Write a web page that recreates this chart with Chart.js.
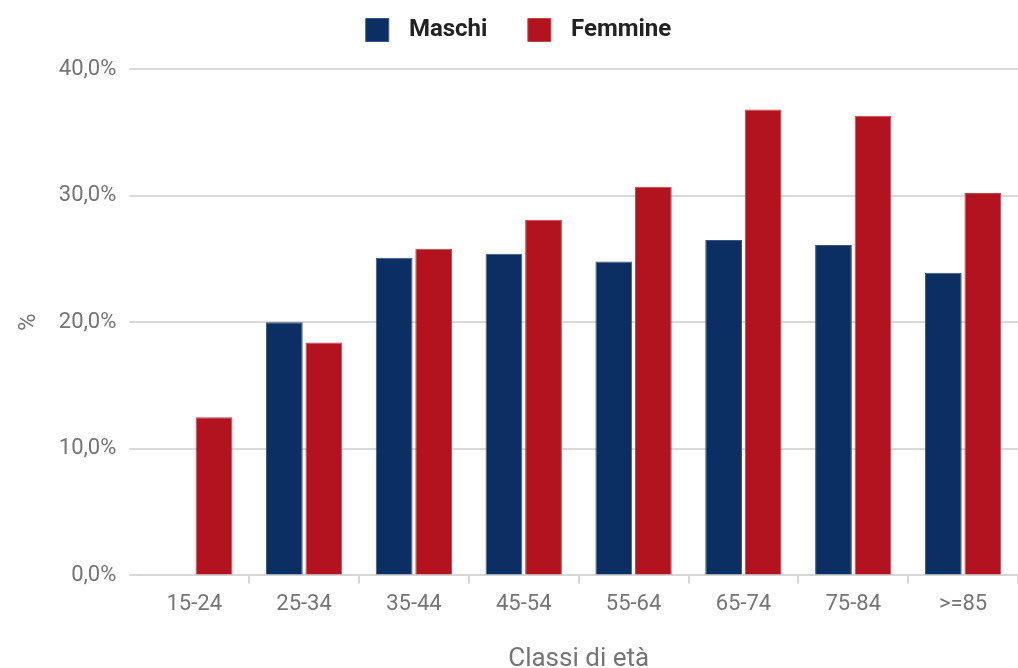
<!DOCTYPE html>
<html><head><meta charset="utf-8">
<script src="https://cdn.jsdelivr.net/npm/chart.js@4/dist/chart.umd.min.js"></script>
<style>html,body{margin:0;padding:0;background:#fff}#wrap{width:1018px;height:668px}</style>
</head><body><div id="wrap"><canvas id="c"></canvas></div>
<script>
const categories = ["15-24","25-34","35-44","45-54","55-64","65-74","75-84",">=85"];
const maschi = [null,20.0,25.1,25.4,24.8,26.5,26.1,23.9];
const femmine = [12.5,18.4,25.8,28.1,30.7,36.8,36.3,30.2];
const seriesNames = ["Maschi","Femmine"];
const yTitle = "%";
const xTitle = "Classi di età";

Chart.defaults.font.family = "Roboto, 'Noto Sans', sans-serif";
const legendSpace = {
  id: 'legendSpace',
  beforeInit(chart) {
    const lg = chart.legend;
    if (lg) {
      const origFit = lg.fit;
      lg.fit = function() { origFit.call(this); this.height += 17; };
      const origDraw = lg.draw;
      lg.draw = function(area) {
        const ctx = this.ctx;
        ctx.save(); ctx.translate(7, 0);
        origDraw.call(this, area);
        ctx.restore();
      };
    }
  }
};
new Chart(document.getElementById('c'), {
  type: 'bar',
  data: {
    labels: categories,
    datasets: [
      {label: seriesNames[0], data: maschi, backgroundColor: '#0b2f62', borderColor:'#3a557d', borderWidth:1, categoryPercentage:0.72, barPercentage:0.93},
      {label: seriesNames[1], data: femmine, backgroundColor: '#b2131f', borderColor:'#c44450', borderWidth:1, categoryPercentage:0.72, barPercentage:0.93}
    ]
  },
  plugins: [legendSpace],
  options: {
    responsive: true, maintainAspectRatio: false, animation: false,
    layout: {padding: {left: 5, right: 0, top: 2, bottom: 0}},
    plugins: {
      tooltip: {enabled:false},
      legend: {
        position: 'top',
        labels: {boxWidth: 23, boxHeight: 23, padding: 16, color: '#222', font: {size: 24, weight: 'bold'},
          generateLabels: chart => Chart.defaults.plugins.legend.labels.generateLabels(chart).map((l, i) => ({...l, text: '\u2004' + l.text + (i === 0 ? '\u2002\u2002' : '')}))}
      }
    },
    scales: {
      x: {
        grid: {offset: true, drawOnChartArea: false, drawTicks: true, tickLength: 8, lineWidth: 2,
          color: ctx => ctx.index === 0 ? 'rgba(0,0,0,0)' : '#d6d6d6'},
        border: {color: '#d6d6d6', width: 2},
        ticks: {color: '#757575', font: {size: 22}, padding: 8},
        title: {display: true, text: xTitle, color: '#757575', font: {size: 26, lineHeight: 0.66}, padding: {top: 25, bottom: 0}}
      },
      y: {
        min: 0, max: 40,
        grid: {color: '#d9d9d9', lineWidth: 2, tickLength: 10},
        border: {display: false},
        ticks: {stepSize: 10, color: '#757575', font: {size: 22}, padding: 13,
          callback: v => v.toFixed(1).replace('.', ',') + '%'},
        title: {display: true, text: yTitle, color: '#757575', font: {size: 24}, padding: {top: 10, bottom: 2}}
      }
    }
  }
});
</script></body></html>
